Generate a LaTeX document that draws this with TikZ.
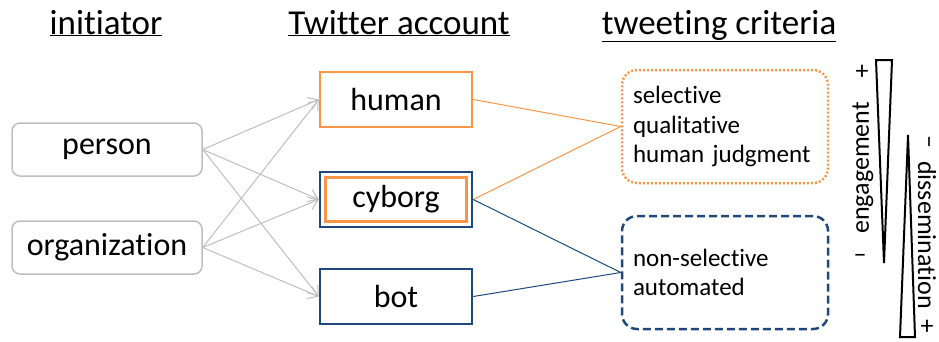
\documentclass[tikz,border=0pt]{standalone}
\usepackage{fontspec}
\setmainfont{Carlito}[Ligatures=NoCommon]
\usetikzlibrary{arrows.meta}
\definecolor{accorange}{RGB}{247,150,70}
\definecolor{accblue}{RGB}{31,73,125}
\definecolor{boxgray}{RGB}{190,190,190}

\begin{document}
\begin{tikzpicture}[x=1pt, y=-1pt,
  head/.style={anchor=base, font=\fontsize{35}{40}\selectfont},
  src/.style={draw=boxgray, line width=1.5pt, rounded corners=8pt, minimum width=190pt, minimum height=53pt, font=\fontsize{32}{38}\selectfont},
  acct/.style={draw, line width=2.5pt, minimum width=152pt, minimum height=55pt, font=\fontsize{32}{38}\selectfont},
  crit/.style={line width=2.5pt, rounded corners=15pt, minimum width=206pt, minimum height=113pt, inner sep=11pt, text width=184pt, align=left, font=\fontsize{25}{29.5}\selectfont},
  link/.style={boxgray, line width=1pt, -{Straight Barb[length=9pt, width=13pt]}},
  side/.style={inner sep=1pt, font=\fontsize{26}{30}\selectfont}]
\useasboundingbox (0,0) rectangle (939,341);

		\node[head] (h1) at (106,34) {\underline{initiator}};
		\node[head] (h2) at (399,34) {\underline{Twitter account}};
		\node[head] (h3) at (719,34) {\underline{tweeting criteria}};

		\node[src] (person) at (107,149.5) {person};
		\node[src] (org) at (107,247.5) {organization};

		\node[acct, draw=accorange] (human) at (396,99.5) {human};
		\node[acct, draw=accblue] (cyborg) at (396,199.5) {};
		\node[acct, draw=accorange, minimum width=141pt, minimum height=44pt] (cyborgin) at (396,199.5) {cyborg};
		\node[acct, draw=accblue] (bot) at (396,296.5) {bot};

		\node[crit, draw=accorange, dash pattern=on 2pt off 2pt] (sel) at (725,126.5) {selective\\qualitative\\human judgment};
		\node[crit, draw=accblue, dash pattern=on 8pt off 4pt] (nonsel) at (725,272.5) {non-selective\\automated};

		\draw[link] (person.east) -- (human.west);
		\draw[link] (person.east) -- (cyborg.west);
		\draw[link] (person.east) -- (bot.west);
		\draw[link] (org.east) -- (human.west);
		\draw[link] (org.east) -- (cyborg.west);
		\draw[link] (org.east) -- (bot.west);

		\draw[accorange, line width=1pt] (human.east) -- (sel.west);
		\draw[accorange, line width=1pt] (cyborg.east) -- (sel.west);
		\draw[accblue, line width=1pt] (cyborg.east) -- (nonsel.west);
		\draw[accblue, line width=1pt] (bot.east) -- (nonsel.west);

		% wedges
		\draw[line width=2pt, line join=miter] (876,60) -- (892,60) -- (884,263) -- cycle;
		\draw[line width=2pt, line join=miter] (908,135) -- (915,337) -- (900,337) -- cycle;

		\node[side] (eplus) at (862,72) {+};
		\node[side, rotate=90] (eng) at (863,168) {engagement};
		\node[side] (eminus) at (860,258) {–};
		\node[side, rotate=-90] (dminus) at (926,142) {–};
		\node[side, rotate=-90] (diss) at (927,235) {dissemination};
		\node[side] (dplus) at (927,327) {+};
\end{tikzpicture}
\end{document}
